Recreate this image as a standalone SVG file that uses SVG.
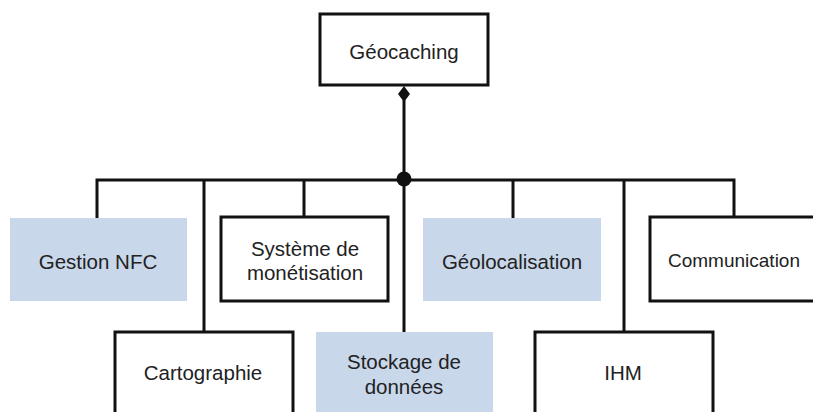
<svg xmlns="http://www.w3.org/2000/svg" width="813" height="412" viewBox="0 0 813 412">
<style>
.box{fill:#ffffff;stroke:#111111;stroke-width:3}
.pkg{fill:#c9d7ea;stroke:none}
.lbl{font-family:"Liberation Sans",Arial,sans-serif;font-size:20.5px;fill:#222222;text-anchor:middle}
.sm{font-size:19px}
.ln{stroke:#111111;stroke-width:3;fill:none}
</style>
<rect width="813" height="412" fill="#ffffff"/>
<g id="connectors">
<polygon points="404,86 410,94 404,102 398,94" fill="#111111"/>
<path class="ln" d="M404,100 V180"/>
<path class="ln" d="M97,218 V180 H734 V217"/>
<path class="ln" d="M204,180 V332"/>
<path class="ln" d="M304,180 V217"/>
<path class="ln" d="M404,180 V332"/>
<path class="ln" d="M513,180 V218"/>
<path class="ln" d="M624,180 V332"/>
<circle cx="404" cy="179" r="7.5" fill="#111111"/>
</g>
<g id="geocaching">
<rect class="box" x="320" y="14" width="168" height="71"/>
<text class="lbl" x="404" y="59">Géocaching</text>
</g>
<g id="gestion-nfc">
<rect class="pkg" x="10" y="218" width="177" height="83"/>
<text class="lbl" x="98" y="269">Gestion NFC</text>
</g>
<g id="monetisation">
<rect class="box" x="221" y="217" width="167" height="84"/>
<text class="lbl" x="305" y="256">Système de</text>
<text class="lbl" x="305" y="280">monétisation</text>
</g>
<g id="geolocalisation">
<rect class="pkg" x="423" y="218" width="178" height="83"/>
<text class="lbl" x="512" y="269">Géolocalisation</text>
</g>
<g id="communication">
<rect class="box" x="650" y="217" width="170" height="84"/>
<text class="lbl sm" x="734" y="267">Communication</text>
</g>
<g id="cartographie">
<rect class="box" x="115" y="332" width="178" height="90"/>
<text class="lbl" x="203" y="380">Cartographie</text>
</g>
<g id="stockage">
<rect class="pkg" x="316" y="332" width="177" height="90"/>
<text class="lbl" x="404" y="369">Stockage de</text>
<text class="lbl" x="404" y="394">données</text>
</g>
<g id="ihm">
<rect class="box" x="535" y="332" width="178" height="90"/>
<text class="lbl" x="623" y="380">IHM</text>
</g>
</svg>
